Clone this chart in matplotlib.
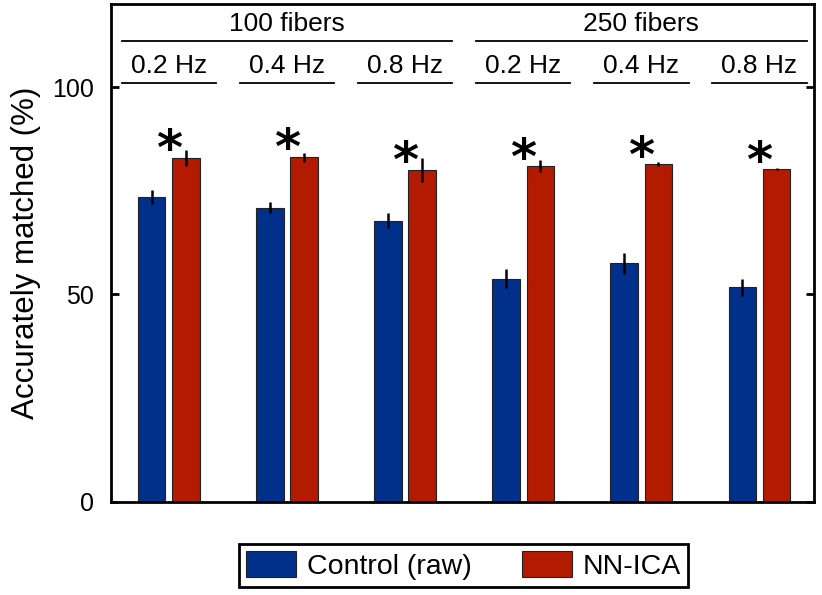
import numpy as np
import matplotlib.pyplot as plt

plt.rcParams['font.family'] = ['Liberation Sans', 'DejaVu Sans']

freqs = ['0.2 Hz', '0.4 Hz', '0.8 Hz', '0.2 Hz', '0.4 Hz', '0.8 Hz']
fiber_groups = ['100 fibers', '250 fibers']
control = [73.5, 70.9, 67.7, 53.8, 57.5, 51.7]
control_err = [1.6, 1.4, 1.8, 2.2, 2.5, 2.0]
nnica = [82.9, 83.1, 80.1, 80.9, 81.4, 80.2]
nnica_err = [2.0, 1.1, 2.9, 1.5, 0.5, 0.3]

blue = '#00308a'
red = '#b31b00'

fig = plt.figure(figsize=(8.22, 5.95), dpi=100)
ax = fig.add_axes([0.135, 0.157, 0.855, 0.836])

x = np.arange(len(freqs))
w = 0.233
off = 0.145
ax.bar(x - off, control, w, color=blue, edgecolor='#222222', linewidth=0.8,
       label='Control (raw)')
ax.bar(x + off, nnica, w, color=red, edgecolor='#222222', linewidth=0.8,
       label='NN-ICA')
ax.errorbar(x - off, control, yerr=control_err, fmt='none', ecolor='black',
            elinewidth=1.8, capsize=0)
ax.errorbar(x + off, nnica, yerr=nnica_err, fmt='none', ecolor='black',
            elinewidth=1.8, capsize=0)

# significance stars
for xi, v in zip(x, nnica):
    ax.text(xi, v + 1.6, '*', ha='center', va='center', fontsize=36,
            fontweight='bold', family='DejaVu Sans')

# frequency labels with underlines
for xi, f in zip(x, freqs):
    ax.text(xi, 102.3, f, ha='center', va='bottom', fontsize=19)
    ax.plot([xi - 0.4, xi + 0.4], [101.1, 101.1], color='black', lw=1.3)

# fiber group labels
for g, name in enumerate(fiber_groups):
    c = x[3 * g:3 * g + 3]
    ax.text(c.mean(), 112.4, name, ha='center', va='bottom', fontsize=19)
    ax.plot([c[0] - 0.4, c[-1] + 0.4], [111.2, 111.2], color='black', lw=1.3)

ax.set_xlim(-0.49, 5.46)
ax.set_ylim(0, 120)
ax.set_xticks([])
ax.set_yticks([0, 50, 100])
ax.tick_params(axis='y', direction='in', length=6, width=2, labelsize=18,
               right=True, pad=12)
ax.set_ylabel('Accurately matched (%)', fontsize=22.5, labelpad=8)
for s in ax.spines.values():
    s.set_linewidth(2)

leg = fig.legend(loc='center', bbox_to_anchor=(0.564, 0.05), ncol=2,
                 fontsize=20.5, fancybox=False, edgecolor='black',
                 handlelength=1.75, handleheight=1.05, handletextpad=0.4,
                 columnspacing=1.75, borderpad=0.25, borderaxespad=0,
                 framealpha=1)
leg.get_frame().set_linewidth(2)

fig.savefig('out.png', dpi=100)
